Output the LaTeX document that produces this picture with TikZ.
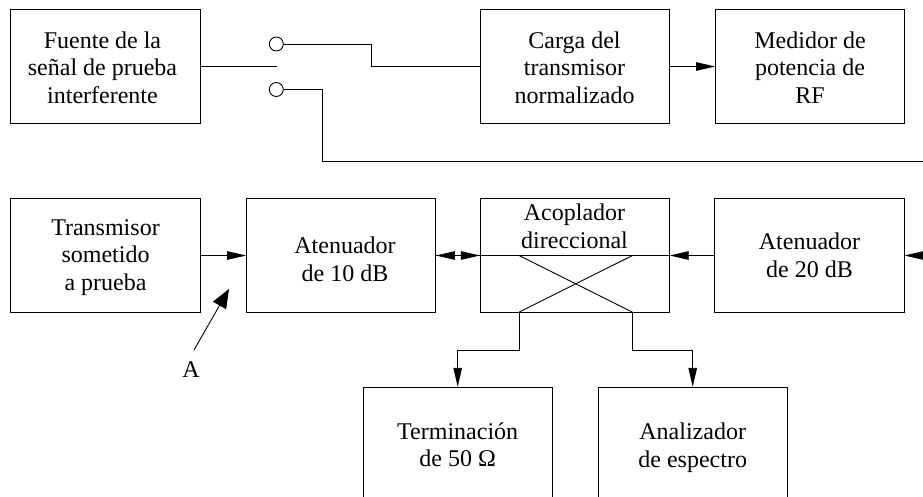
\documentclass[tikz,border=0pt]{standalone}
\usepackage{fontspec}
\setmainfont{Liberation Serif}
\usetikzlibrary{arrows.meta,calc}
\tikzset{
  box/.style={draw,line width=0.9pt,minimum width=189.5pt,minimum height=113.5pt,inner sep=0pt},
  txt/.style={inner sep=0pt,align=center,font=\fontsize{24}{27.6}\selectfont},
  term/.style={draw,circle,line width=0.9pt,minimum size=14pt,inner sep=0pt},
  wire/.style={line width=0.9pt},
  arr/.style={wire,-{Triangle[length=19pt,width=8.5pt]},shorten >=-0.3pt},
  bigarr/.style={wire,-{Triangle[length=19pt,width=15pt]}}
}
\begin{document}
\begin{tikzpicture}[x=1pt,y=-1pt]
\useasboundingbox (0,0) rectangle (923,497);
\clip (0,0) rectangle (923,497);
\node[box] (src) at (105.5,66.5) {};
\node[box] (carga) at (574.8,66.5) {};
\node[box] (med) at (810,66.5) {};
\node[box] (tx) at (105.5,255.5) {};
\node[box] (at10) at (341,255.5) {};
\node[box] (acop) at (574.8,255.5) {};
\node[box] (at20) at (809.5,255.5) {};
\node[box] (term) at (457.7,443.7) {};
\node[box] (ana) at (692.7,443.7) {};
\node[txt] (srct) at (102.5,67.5) {Fuente de la\\señal de prueba\\interferente};
\node[txt] (cargat) at (574.5,67.5) {Carga del\\transmisor\\normalizado};
\node[txt] (medt) at (810,67.5) {Medidor de\\potencia de\\RF};
\node[txt] (txt1) at (105.5,257.5) {Transmisor\\sometido\\a prueba};
\node[txt] (at10t) at (345,259.5) {Atenuador\\de 10 dB};
\node[txt] (acopt) at (574.5,226.5) {Acoplador\\direccional};
\node[txt] (at20t) at (809.5,255.5) {Atenuador\\de 20 dB};
\node[txt] (termt) at (457.7,444.7) {Terminación\\de 50 Ω};
\node[txt] (anat) at (692.7,447.7) {Analizador\\de espectro};
\node[term] (t1) at (276.3,44) {};
\node[term] (t2) at (276.3,89.5) {};
\coordinate (pole) at (277,66.5);
\coordinate (rin) at (923,255.5);
\coordinate (a1) at (519,312.2);
\coordinate (a2) at (632.5,312.2);
\coordinate (b1) at (519,255.5);
\coordinate (b2) at (632.5,255.5);
\coordinate (Atip) at (229,289);
\node[txt] (A) at (191,370) {A};
\draw[wire] (src.east) -- (pole);
\draw[wire] (t1.east) -| (371.5,66.5) -- (carga.west);
\draw[wire] (t2.east) -| (322,161) -- (923,161);
\draw[arr] (carga.east) -- (med.west);
\draw[arr] (tx.east) -- (at10.west);
\draw[arr] (acop.west) -- (at10.east);
\draw[arr] (at10.east) -- (acop.west);
\draw[wire] (acop.west) -- (acop.east);
\draw[arr] (at20.west) -- (acop.east);
\draw[arr] (rin) -- (at20.east);
\draw[wire] (b1) -- (a2);
\draw[wire] (b2) -- (a1);
\draw[arr] (a1) -- (519,350) -| (term.north);
\draw[arr] (a2) -- (632.5,350) -| (ana.north);
\draw[bigarr] (194,350) -- (Atip);
\end{tikzpicture}
\end{document}
